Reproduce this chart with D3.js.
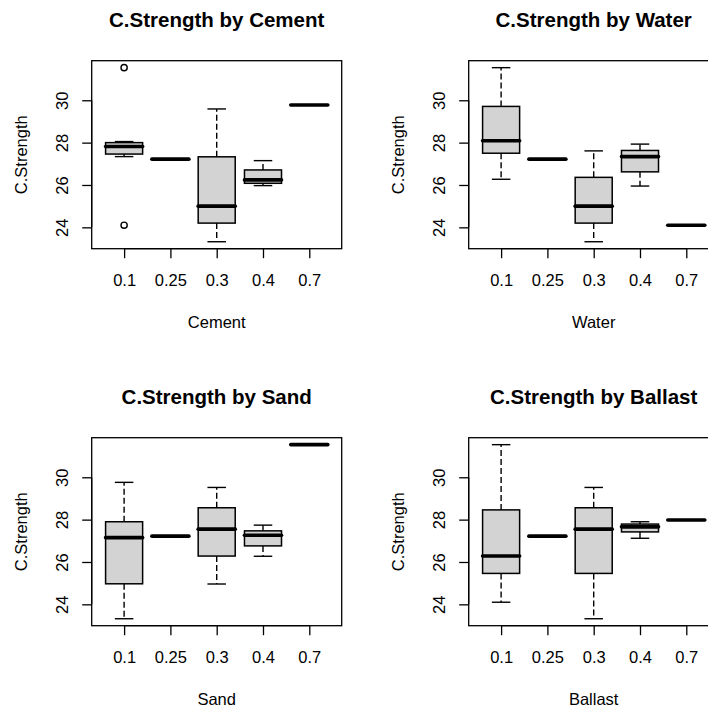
<!DOCTYPE html>
<html>
<head>
<meta charset="utf-8">
<script src="https://cdn.jsdelivr.net/npm/d3@7"></script>
<style>
  html, body { margin: 0; padding: 0; background: #fff; }
  svg { display: block; font-family: "Liberation Sans", Arial, sans-serif; }
</style>
</head>
<body>
<svg id="chart" width="708" height="710"></svg>
<script>
// Mix ratio levels shared by every ingredient
const levels = ["0.1", "0.25", "0.3", "0.4", "0.7"];
const yTicks = [24, 26, 28, 30];
const ingredients = ["Cement", "Water", "Sand", "Ballast"];

// Box statistics per level: [lower whisker, Q1, median, Q3, upper whisker]
const cementStats = [
  [27.34, 27.46, 27.82, 28.00, 28.05],
  [27.22, 27.22, 27.22, 27.22, 27.22],
  [23.32, 24.20, 25.00, 27.33, 29.59],
  [25.97, 26.08, 26.24, 26.71, 27.15],
  [29.78, 29.78, 29.78, 29.78, 29.78]
];
const cementOutliers = [[31.54, 24.10], [], [], [], []];

const waterStats = [
  [26.27, 27.50, 28.09, 29.71, 31.54],
  [27.22, 27.22, 27.22, 27.22, 27.22],
  [23.32, 24.20, 25.00, 26.36, 27.61],
  [25.95, 26.62, 27.34, 27.63, 27.93],
  [24.10, 24.10, 24.10, 24.10, 24.10]
];
const waterOutliers = [[], [], [], [], []];

const sandStats = [
  [23.32, 24.97, 27.15, 27.90, 29.76],
  [27.22, 27.22, 27.22, 27.22, 27.22],
  [24.96, 26.28, 27.55, 28.56, 29.52],
  [26.27, 26.76, 27.26, 27.47, 27.74],
  [31.54, 31.54, 31.54, 31.54, 31.54]
];
const sandOutliers = [[], [], [], [], []];

const ballastStats = [
  [24.10, 25.46, 26.28, 28.46, 31.54],
  [27.22, 27.22, 27.22, 27.22, 27.22],
  [23.32, 25.46, 27.55, 28.56, 29.52],
  [27.12, 27.42, 27.66, 27.79, 27.90],
  [27.98, 27.98, 27.98, 27.98, 27.98]
];
const ballastOutliers = [[], [], [], [], []];

const panelStats = [cementStats, waterStats, sandStats, ballastStats];
const panelOutliers = [cementOutliers, waterOutliers, sandOutliers, ballastOutliers];

// Layout of one panel (2 x 2 grid, each cell 377 px)
const cell = 377;
const plot = { left: 91.7, top: 60.7, width: 250, height: 188 };
const boxFill = "#d3d3d3";
const ink = "#000";
const fontStack = "Liberation Sans, Arial, sans-serif";

const svg = d3.select("#chart");

function drawPanel(idx) {
  const name = ingredients[idx];
  const stats = panelStats[idx];
  const outs = panelOutliers[idx];
  const col = idx % 2, row = Math.floor(idx / 2);
  const g = svg.append("g")
    .attr("transform", `translate(${col * cell},${row * cell})`);

  // y-range: data extent padded by 4% on each side
  const all = stats.flat().concat(outs.flat());
  const lo = d3.min(all), hi = d3.max(all);
  const pad = (hi - lo) * 0.04;
  const y = d3.scaleLinear()
    .domain([lo - pad, hi + pad])
    .range([plot.top + plot.height, plot.top]);
  const x = d3.scalePoint()
    .domain(levels)
    .range([plot.left, plot.left + plot.width])
    .padding(0.7);
  const bw = x.step() * 0.8;
  const sw = bw * 0.5;

  // boxes
  levels.forEach((lv, i) => {
    const [w0, q1, md, q3, w1] = stats[i];
    const cx = x(lv);
    const bg = g.append("g");
    // whiskers (dashed)
    [[q3, w1], [q1, w0]].forEach(([a, b]) => {
      bg.append("line")
        .attr("x1", cx).attr("x2", cx)
        .attr("y1", y(a)).attr("y2", y(b))
        .attr("stroke", ink).attr("stroke-width", 1.4)
        .attr("stroke-dasharray", "6,3");
    });
    // staples
    [w0, w1].forEach(v => {
      bg.append("line")
        .attr("x1", cx - sw / 2).attr("x2", cx + sw / 2)
        .attr("y1", y(v)).attr("y2", y(v))
        .attr("stroke", ink).attr("stroke-width", 1.4);
    });
    // box
    bg.append("rect")
      .attr("x", cx - bw / 2).attr("width", bw)
      .attr("y", y(q3)).attr("height", Math.max(0, y(q1) - y(q3)))
      .attr("fill", boxFill)
      .attr("stroke", ink).attr("stroke-width", 1.5);
    // median
    bg.append("line")
      .attr("x1", cx - bw / 2).attr("x2", cx + bw / 2)
      .attr("y1", y(md)).attr("y2", y(md))
      .attr("stroke", ink).attr("stroke-width", 3.6)
      .attr("stroke-linecap", "round");
    // outliers
    outs[i].forEach(v => {
      bg.append("circle")
        .attr("cx", cx).attr("cy", y(v)).attr("r", 3.1)
        .attr("fill", "none")
        .attr("stroke", ink).attr("stroke-width", 1.4);
    });
  });

  // frame
  g.append("rect")
    .attr("x", plot.left).attr("y", plot.top)
    .attr("width", plot.width).attr("height", plot.height)
    .attr("fill", "none").attr("stroke", ink).attr("stroke-width", 1.3);

  // x axis
  const xAxis = g.append("g")
    .attr("transform", `translate(0,${plot.top + plot.height})`)
    .call(d3.axisBottom(x).tickSize(9.5).tickPadding(0).tickSizeOuter(0));
  xAxis.select(".domain")
    .attr("d", `M${x(levels[0])},0H${x(levels[levels.length - 1])}`)
    .attr("stroke-width", 1.3);
  xAxis.selectAll(".tick line").attr("stroke-width", 1.3);
  xAxis.selectAll(".tick text")
    .attr("y", 37.8).attr("dy", null)
    .attr("font-size", "16.5px")
    .attr("font-family", fontStack)
    .attr("fill", ink);

  // y axis with labels parallel to the axis
  const yAxis = g.append("g")
    .attr("transform", `translate(${plot.left},0)`)
    .call(d3.axisLeft(y).tickValues(yTicks).tickSize(9.5).tickSizeOuter(0));
  yAxis.select(".domain")
    .attr("d", `M0,${y(yTicks[0])}V${y(yTicks[yTicks.length - 1])}`)
    .attr("stroke-width", 1.3);
  yAxis.selectAll(".tick line").attr("stroke-width", 1.3);
  yAxis.selectAll(".tick text")
    .attr("x", null).attr("dy", null)
    .attr("text-anchor", "middle")
    .attr("transform", "translate(-23.7,0) rotate(-90)")
    .attr("font-size", "16.5px")
    .attr("font-family", fontStack)
    .attr("fill", ink);

  // title
  g.append("text")
    .attr("x", plot.left + plot.width / 2).attr("y", 27)
    .attr("text-anchor", "middle")
    .attr("font-size", "20.5px").attr("font-weight", "bold")
    .attr("fill", ink)
    .text(`C.Strength by ${name}`);

  // axis titles
  g.append("text")
    .attr("x", plot.left + plot.width / 2).attr("y", 328.3)
    .attr("text-anchor", "middle")
    .attr("font-size", "16.5px").attr("fill", ink)
    .text(name);
  g.append("text")
    .attr("transform", `translate(27,${plot.top + plot.height / 2}) rotate(-90)`)
    .attr("text-anchor", "middle")
    .attr("font-size", "16.5px").attr("fill", ink)
    .text("C.Strength");
}

ingredients.forEach((_, i) => drawPanel(i));
</script>
</body>
</html>
